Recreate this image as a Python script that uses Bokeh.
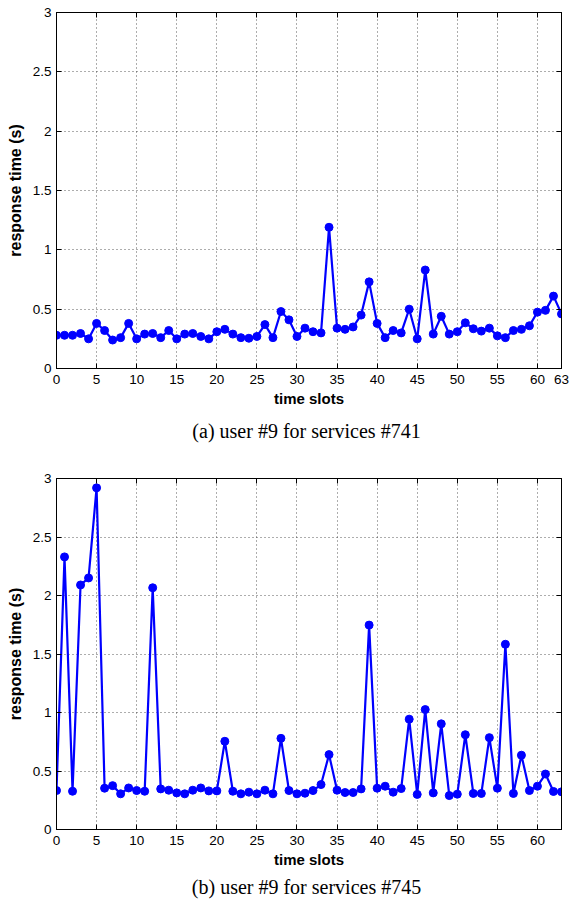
from bokeh.plotting import figure
from bokeh.layouts import column
from bokeh.models import Range1d, FixedTicker, LinearAxis, Title, CustomLabelingPolicy
from bokeh.embed import file_html
from bokeh.resources import INLINE

slots = list(range(64))
resp_741 = [0.28, 0.28, 0.28, 0.295, 0.25, 0.38, 0.32, 0.24, 0.26, 0.38,
            0.25, 0.29, 0.295, 0.26, 0.32, 0.25, 0.29, 0.295, 0.27, 0.25,
            0.31, 0.33, 0.29, 0.26, 0.255, 0.27, 0.37, 0.26, 0.48, 0.41,
            0.27, 0.34, 0.31, 0.30, 1.19, 0.34, 0.33, 0.35, 0.45, 0.73,
            0.38, 0.26, 0.32, 0.30, 0.50, 0.25, 0.83, 0.29, 0.44, 0.29,
            0.31, 0.385, 0.335, 0.315, 0.34, 0.275, 0.26, 0.32, 0.33, 0.36,
            0.475, 0.49, 0.61, 0.46]
resp_745 = [0.333, 2.33, 0.327, 2.09, 2.15, 2.92, 0.353, 0.375, 0.305, 0.355,
            0.333, 0.327, 2.066, 0.347, 0.336, 0.313, 0.305, 0.336, 0.355, 0.33,
            0.33, 0.754, 0.327, 0.305, 0.319, 0.305, 0.336, 0.305, 0.779, 0.333,
            0.305, 0.31, 0.333, 0.384, 0.64, 0.336, 0.316, 0.316, 0.347, 1.747,
            0.353, 0.37, 0.319, 0.35, 0.943, 0.30, 1.025, 0.313, 0.903, 0.29,
            0.302, 0.81, 0.308, 0.308, 0.785, 0.353, 1.583, 0.308, 0.635, 0.333,
            0.37, 0.474, 0.325, 0.322]
xticks_a = [0, 5, 10, 15, 20, 25, 30, 35, 40, 45, 50, 55, 60, 63]
xticks_b = [0, 5, 10, 15, 20, 25, 30, 35, 40, 45, 50, 55, 60]
yticks = [0, 0.5, 1, 1.5, 2, 2.5, 3]
ylabels = ["0", "0.5", "1", "1.5", "2", "2.5", "3"]
caption_a = "(a)  user #9 for services #741"
caption_b = "(b)  user #9 for services #745"

FONT = "Liberation Sans"
NO_LABELS = "for (let i = 0; i < indices.size; i++) { indices.unset(i) }\nreturn indices"


def make_panel(y, xticks, caption, height, top, bottom, cap_standoff):
    p = figure(width=579, height=height, output_backend="svg", toolbar_location=None,
               x_range=Range1d(0, 63), y_range=Range1d(0, 3),
               min_border_left=56, min_border_right=7, min_border_top=top,
               min_border_bottom=bottom, x_axis_label="time slots",
               y_axis_label="response time (s)")
    p.outline_line_color = "black"
    p.outline_line_width = 1
    p.background_fill_color = "white"
    p.border_fill_color = "white"

    p.xaxis.ticker = FixedTicker(ticks=xticks)
    p.yaxis.ticker = FixedTicker(ticks=yticks)
    p.yaxis.major_label_overrides = {v: s for v, s in zip(yticks, ylabels)}
    for ax in (p.xaxis[0], p.yaxis[0]):
        ax.major_tick_out = 0
        ax.major_tick_in = 5
        ax.minor_tick_out = 0
        ax.minor_tick_in = 0
        ax.axis_line_color = "black"
        ax.major_tick_line_color = "black"
        ax.major_label_text_font = FONT
        ax.major_label_text_font_size = "13.5px"
        ax.major_label_text_color = "black"
        ax.axis_label_text_font = FONT
        ax.axis_label_text_font_style = "bold"
        ax.axis_label_text_color = "black"
    p.xaxis.axis_label_text_font_size = "15px"
    p.yaxis.axis_label_text_font_size = "16px"
    p.xaxis.major_label_standoff = 6
    p.xaxis.axis_label_standoff = 3
    p.yaxis.major_label_standoff = 5
    p.yaxis.axis_label_standoff = 6

    for side, tk in (("right", yticks), ("above", xticks)):
        ax = LinearAxis(ticker=FixedTicker(ticks=tk), major_tick_out=0, major_tick_in=5,
                        minor_tick_out=0, minor_tick_in=0, major_label_standoff=0,
                        major_label_policy=CustomLabelingPolicy(code=NO_LABELS),
                        axis_line_color="black")
        p.add_layout(ax, side)

    p.xgrid.ticker = FixedTicker(ticks=xticks)
    p.ygrid.ticker = FixedTicker(ticks=yticks)
    for g in (p.xgrid[0], p.ygrid[0]):
        g.grid_line_color = "#333333"
        g.grid_line_dash = "1 3"
        g.grid_line_width = 1
        g.grid_line_alpha = 0.8

    p.line(slots, y, line_color="blue", line_width=2.2)
    p.scatter(slots, y, size=8, fill_color="blue", line_color="blue")

    p.add_layout(Title(text=caption, align="center", text_font="Liberation Serif",
                       text_font_size="20px", text_font_style="normal",
                       text_color="black", standoff=cap_standoff), "below")
    return p


pa = make_panel(resp_741, xticks_a, caption_a, 467, 12, 99, 16)
pb = make_panel(resp_745, xticks_b, caption_b, 444, 8, 82, 7)
layout = column(pa, pb, spacing=0)

open("out.html", "w").write(file_html(layout, INLINE))
